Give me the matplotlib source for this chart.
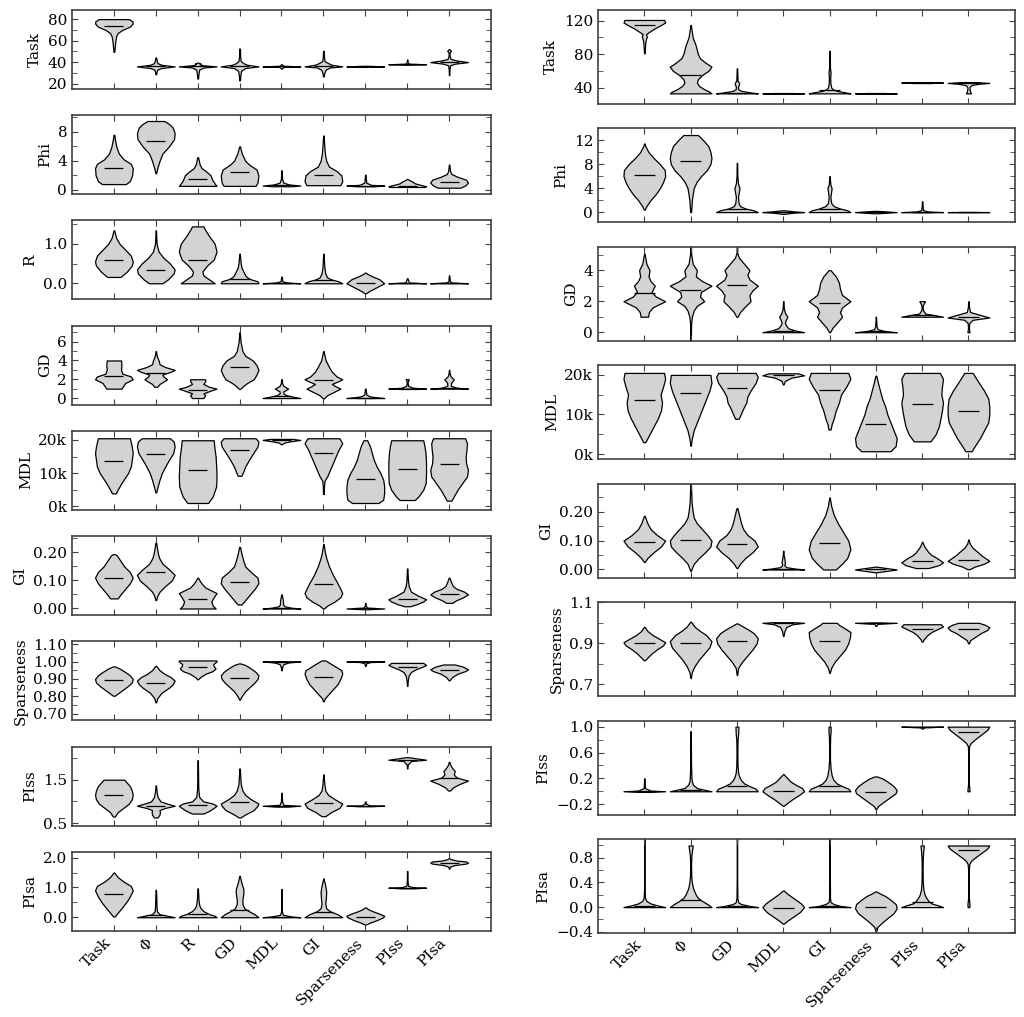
import numpy as np
import matplotlib
matplotlib.use("Agg")
import matplotlib.pyplot as plt
from matplotlib.ticker import FixedLocator, MultipleLocator, FuncFormatter

plt.rcParams['font.family'] = ['DejaVu Serif']
plt.rcParams['font.size'] = 11

LEFT_CATS = ["Task", "Φ", "R", "GD", "MDL", "GI", "Sparseness", "PIss", "PIsa"]
RIGHT_CATS = ["Task", "Φ", "GD", "MDL", "GI", "Sparseness", "PIss", "PIsa"]

# each violin: (median, [(value, relative density), ...])
# MDL values are in thousands

# ---- left column ----
L_TASK = [
    (73.8, [(49.5, .02), (55, .05), (60, .08), (64, .12), (67, .2), (70, .45), (73, .85), (76, 1), (78, .98), (80, .8)]),
    (36.0, [(28.7, .02), (31, .04), (33, .08), (34.5, .3), (36, 1), (37.5, .3), (39, .1), (41, .05), (44.3, .02)]),
    (36.0, [(24.7, .02), (29, .04), (33, .08), (35, .3), (36, 1), (37, .3), (38, .1), (38.8, .15), (39.5, .02)]),
    (36.5, [(23, .02), (28, .04), (32, .08), (34.5, .3), (36, 1), (37.5, .4), (39, .2), (41, .06), (45, .03), (52.6, .02)]),
    (36.0, [(34, .02), (35.5, .1), (36, 1), (36.5, .1), (38, .02)]),
    (36.0, [(26.8, .02), (30, .05), (33, .12), (35, .35), (36, 1), (37.5, .45), (39, .25), (41, .06), (45, .03), (50.5, .02)]),
    (36.0, [(35.5, .05), (36, 1), (36.5, .05)]),
    (38.0, [(37.5, .05), (38, 1), (38.5, .1), (40, .02), (42.4, .01)]),
    (40.0, [(27.8, .01), (33, .02), (37, .05), (38.5, .3), (40, 1), (41.5, .4), (43, .08), (46, .02), (49, .03), (50.5, .1), (52, .02)]),
]
L_PHI = [
    (3.0, [(0.8, .6), (1.2, .8), (2, .92), (3, .95), (3.6, .85), (4.2, .5), (5, .25), (6, .12), (7, .05), (7.6, .02)]),
    (6.8, [(2.3, .02), (3, .08), (4, .2), (5, .35), (6, .7), (7, .97), (7.8, 1), (8.6, .9), (9.1, .7), (9.5, .45)]),
    (1.5, [(0.55, .95), (0.9, .85), (1.3, .75), (2, .65), (2.5, .45), (3, .2), (3.5, .1), (4.5, .02)]),
    (2.4, [(0.55, .85), (1, .95), (2, 1), (2.8, .9), (3.5, .5), (4, .3), (5, .12), (6, .02)]),
    (0.65, [(0.5, .5), (0.6, 1), (0.75, .4), (1, .1), (1.5, .03), (2.7, .01)]),
    (2.1, [(0.65, .9), (1.2, 1), (2, .95), (2.6, .7), (3.2, .3), (4, .15), (5, .08), (6, .05), (7.5, .01)]),
    (0.6, [(0.5, .5), (0.6, 1), (0.7, .3), (1, .05), (2.1, .01)]),
    (0.6, [(0.4, .9), (0.5, 1), (0.7, .7), (0.9, .4), (1.1, .3), (1.3, .15), (1.5, .02)]),
    (1.1, [(0.3, .6), (0.6, .85), (1.0, 1), (1.4, .9), (1.8, .45), (2.2, .12), (2.6, .05), (3.5, .01)]),
]
L_R = [
    (0.60, [(0.16, .35), (0.3, .7), (0.45, .95), (0.55, 1), (0.7, .9), (0.85, .6), (1.0, .3), (1.15, .12), (1.34, .02)]),
    (0.33, [(0.0, .35), (0.1, .65), (0.25, .95), (0.35, 1), (0.5, .75), (0.65, .4), (0.8, .15), (1.0, .04), (1.34, .01)]),
    (0.58, [(0.0, .9), (0.1, .6), (0.2, .3), (0.3, .25), (0.45, .5), (0.6, .85), (0.8, 1), (1.0, .9), (1.2, .6), (1.35, .4), (1.44, .3)]),
    (0.11, [(0.0, 1), (0.05, .95), (0.1, .6), (0.15, .4), (0.2, .3), (0.3, .2), (0.4, .1), (0.5, .06), (0.75, .01)]),
    (0.0, [(0.0, 1), (0.02, .3), (0.05, .05), (0.17, .01)]),
    (0.075, [(0.0, 1), (0.05, .8), (0.1, .4), (0.15, .2), (0.25, .1), (0.4, .05), (0.75, .01)]),
    (0.0, [(-0.25, .05), (-0.2, .2), (-0.1, .6), (0.0, 1), (0.1, .75), (0.18, .35), (0.24, .1), (0.27, .02)]),
    (0.0, [(0.0, 1), (0.02, .1), (0.13, .01)]),
    (0.0, [(0.0, 1), (0.02, .15), (0.05, .04), (0.2, .01)]),
]
L_GD = [
    (2.4, [(1.0, .4), (1.3, .5), (1.6, .6), (2.0, 1), (2.3, .9), (2.6, .45), (3.0, .38), (3.5, .4), (4.0, .38)]),
    (2.7, [(1.2, .08), (1.5, .2), (1.8, .45), (2.0, .6), (2.3, .4), (2.5, .35), (2.8, .8), (3.0, 1), (3.3, .5), (3.6, .2), (4.0, .15), (4.5, .05), (5.0, .01)]),
    (0.85, [(0.0, .3), (0.3, .4), (0.5, .3), (0.8, .7), (1.0, 1), (1.2, .6), (1.5, .3), (1.8, .4), (2.0, .4)]),
    (3.3, [(1.0, .05), (1.3, .2), (1.6, .4), (2.0, .75), (2.5, .9), (3.0, 1), (3.5, .9), (4.0, .7), (4.5, .3), (5.0, .15), (6.0, .05), (7.0, .01)]),
    (0.2, [(0.0, 1), (0.15, .6), (0.3, .25), (0.5, .1), (0.7, .1), (1.0, .35), (1.3, .1), (1.6, .03), (2.0, .02)]),
    (1.9, [(-0.05, .02), (0.3, .2), (0.7, .6), (1.0, .9), (1.3, .6), (1.5, .45), (1.8, .8), (2.0, 1), (2.3, .7), (2.8, .45), (3.3, .3), (4.0, .12), (5.0, .01)]),
    (0.05, [(0.0, 1), (0.1, .5), (0.2, .2), (0.4, .05), (1.0, .02)]),
    (1.0, [(1.0, 1), (1.1, .3), (1.3, .05), (1.7, .02), (1.9, .06), (2.0, .08)]),
    (1.05, [(1.0, 1), (1.1, .4), (1.3, .1), (1.6, .1), (2.0, .25), (2.3, .08), (2.6, .03), (3.0, .01)]),
]
L_MDL = [
    (13.6, [(3.9, .1), (5, .2), (7, .4), (10, .75), (12, .9), (14, .95), (16, 1), (18, .95), (20.5, .85)]),
    (15.8, [(4.2, .02), (6, .1), (8, .2), (10, .32), (12, .5), (14, .7), (16, .92), (18, 1), (19.5, .95), (20.5, .75)]),
    (10.8, [(1.0, .55), (3, .8), (6, .98), (9, 1), (12, .98), (15, .95), (18, .88), (19.9, .85)]),
    (16.9, [(9.2, .1), (10.5, .2), (12, .3), (14, .5), (16, .72), (18, .95), (19.5, 1), (20.5, .85)]),
    (20.0, [(18.7, .02), (19.2, .15), (19.6, .5), (20.0, 1), (20.3, .6)]),
    (16.2, [(3.7, .02), (6, .03), (7.7, .06), (9, .2), (11, .35), (13, .5), (15, .65), (17, .8), (19, 1), (20.5, .85)]),
    (8.2, [(1.0, .7), (2, .95), (4, 1), (6, 1), (8, .95), (10, .8), (12, .6), (14, .45), (16, .35), (18, .25), (19.9, .1)]),
    (11.1, [(1.9, .4), (3, .6), (5, .85), (7, .98), (10, 1), (13, 1), (16, .97), (18, .92), (19.9, .85)]),
    (12.6, [(1.7, .12), (3, .25), (5, .45), (7, .7), (9, .95), (11, 1), (13, .9), (15, .88), (17, .92), (19, .95), (20.5, .85)]),
]
L_GI = [
    (0.108, [(0.036, .2), (0.05, .35), (0.07, .6), (0.09, .85), (0.11, 1), (0.13, .85), (0.15, .55), (0.17, .35), (0.19, .15), (0.194, .05)]),
    (0.129, [(0.03, .02), (0.045, .08), (0.06, .2), (0.08, .5), (0.1, .85), (0.12, 1), (0.14, .7), (0.16, .35), (0.18, .18), (0.2, .1), (0.235, .02)]),
    (0.033, [(0.0, .95), (0.01, .8), (0.025, .72), (0.04, .85), (0.055, 1), (0.065, .7), (0.075, .4), (0.09, .2), (0.1, .1), (0.11, .02)]),
    (0.095, [(0.014, .1), (0.03, .3), (0.05, .55), (0.07, .8), (0.09, 1), (0.11, .95), (0.13, .6), (0.15, .3), (0.17, .2), (0.19, .12), (0.22, .02)]),
    (0.002, [(0.0, 1), (0.003, .5), (0.008, .15), (0.015, .08), (0.025, .08), (0.035, .06), (0.05, .01)]),
    (0.089, [(0.0, .03), (0.01, .2), (0.025, .6), (0.04, .9), (0.055, 1), (0.07, .9), (0.09, .75), (0.12, .5), (0.15, .3), (0.18, .15), (0.2, .08), (0.23, .01)]),
    (0.0, [(-0.003, .02), (0.0, 1), (0.003, .1), (0.01, .02), (0.02, .01)]),
    (0.033, [(0.008, .15), (0.015, .5), (0.025, .85), (0.033, 1), (0.045, .6), (0.06, .2), (0.08, .08), (0.1, .04), (0.143, .01)]),
    (0.052, [(0.02, .15), (0.03, .4), (0.04, .75), (0.05, 1), (0.06, .8), (0.07, .4), (0.08, .2), (0.095, .1), (0.11, .02)]),
]
L_SPARSE = [
    (0.894, [(0.804, .05), (0.82, .25), (0.84, .5), (0.86, .75), (0.88, .95), (0.9, 1), (0.92, .85), (0.94, .6), (0.96, .3), (0.972, .05)]),
    (0.874, [(0.766, .02), (0.79, .08), (0.82, .3), (0.85, .7), (0.87, .9), (0.89, 1), (0.91, .8), (0.93, .45), (0.95, .2), (0.974, .03)]),
    (0.969, [(0.898, .02), (0.91, .12), (0.93, .4), (0.945, .75), (0.96, .9), (0.975, .8), (0.985, .78), (1.0, .95), (1.006, .95)]),
    (0.906, [(0.781, .02), (0.8, .1), (0.83, .3), (0.86, .6), (0.88, .8), (0.9, .95), (0.92, 1), (0.94, .85), (0.96, .6), (0.98, .3), (0.989, .05)]),
    (1.0, [(0.95, .01), (0.97, .04), (0.985, .1), (0.995, .4), (1.0, 1), (1.002, .3)]),
    (0.911, [(0.772, .02), (0.79, .08), (0.81, .25), (0.84, .5), (0.87, .75), (0.9, .9), (0.93, 1), (0.95, .95), (0.97, .65), (0.99, .35), (1.006, .1)]),
    (1.0, [(0.975, .02), (0.99, .05), (0.998, .3), (1.0, 1), (1.002, .1)]),
    (0.969, [(0.86, .01), (0.89, .03), (0.92, .08), (0.94, .2), (0.955, .45), (0.97, .8), (0.98, 1), (0.992, .85)]),
    (0.950, [(0.892, .02), (0.91, .15), (0.93, .45), (0.945, .85), (0.955, 1), (0.97, .75), (0.983, .3)]),
]
L_PISS = [
    (1.14, [(0.65, .05), (0.75, .2), (0.85, .5), (0.95, .8), (1.05, .95), (1.15, 1), (1.25, .95), (1.35, .85), (1.45, .65), (1.5, .55)]),
    (0.885, [(0.63, .1), (0.7, .2), (0.75, .22), (0.8, .2), (0.85, .5), (0.9, 1), (0.95, .6), (1.0, .25), (1.1, .1), (1.2, .05), (1.37, .01)]),
    (0.92, [(0.72, .3), (0.78, .6), (0.85, .85), (0.9, 1), (0.95, .8), (1.0, .3), (1.1, .08), (1.3, .03), (1.6, .02), (1.95, .01)]),
    (0.99, [(0.63, .05), (0.7, .3), (0.8, .75), (0.9, .95), (0.95, 1), (1.05, .6), (1.15, .3), (1.25, .15), (1.4, .06), (1.76, .01)]),
    (0.9, [(0.88, .3), (0.9, 1), (0.92, .1), (1.0, .03), (1.2, .01)]),
    (0.97, [(0.66, .1), (0.75, .4), (0.85, .85), (0.95, 1), (1.05, .6), (1.15, .25), (1.25, .1), (1.4, .05), (1.62, .01)]),
    (0.9, [(0.89, .3), (0.9, 1), (0.91, .2), (0.95, .03), (1.0, .01)]),
    (1.96, [(1.76, .01), (1.85, .03), (1.93, .2), (1.96, 1), (1.99, .5), (2.02, .05)]),
    (1.55, [(1.25, .05), (1.32, .2), (1.4, .55), (1.48, 1), (1.55, .4), (1.62, .25), (1.7, .3), (1.78, .15), (1.85, .05), (1.91, .02)]),
]
L_PISA = [
    (0.77, [(0.03, .05), (0.15, .2), (0.3, .4), (0.5, .65), (0.7, .85), (0.9, 1), (1.05, .9), (1.2, .5), (1.35, .2), (1.5, .02)]),
    (0.08, [(0.0, 1), (0.05, .6), (0.1, .2), (0.2, .06), (0.35, .04), (0.6, .03), (0.92, .01)]),
    (0.11, [(0.0, .95), (0.05, .85), (0.1, .6), (0.2, .3), (0.3, .15), (0.4, .08), (0.6, .04), (0.97, .01)]),
    (0.23, [(0.0, 1), (0.1, .8), (0.2, .5), (0.3, .25), (0.45, .15), (0.6, .15), (0.8, .2), (0.95, .2), (1.15, .1), (1.39, .01)]),
    (0.02, [(0.0, 1), (0.03, .5), (0.08, .08), (0.2, .02), (0.5, .015), (0.95, .01)]),
    (0.17, [(0.0, 1), (0.1, .75), (0.2, .35), (0.3, .15), (0.45, .1), (0.65, .13), (0.85, .15), (1.05, .1), (1.3, .01)]),
    (0.02, [(-0.24, .05), (-0.18, .25), (-0.1, .6), (0.0, .95), (0.05, 1), (0.12, .75), (0.2, .4), (0.27, .15), (0.33, .02)]),
    (0.99, [(0.97, .3), (0.99, 1), (1.01, .3), (1.05, .05), (1.2, .02), (1.55, .01)]),
    (1.83, [(1.63, .01), (1.7, .05), (1.75, .3), (1.8, .9), (1.83, 1), (1.87, .9), (1.9, .4), (1.95, .08), (1.98, .02)]),
]

# ---- right column ----
R_TASK = [
    (115.2, [(81, .01), (88, .03), (95, .05), (98, .08), (101, .12), (104, .08), (107, .25), (111, .5), (115, .8), (118, 1), (121, .95)]),
    (55.0, [(33, 1), (35, .9), (38, .65), (42, .4), (46, .3), (50, .35), (55, .55), (60, .85), (65, 1), (70, .7), (75, .45), (80, .35), (90, .25), (100, .1), (108, .05), (115, .01)]),
    (33.8, [(33, 1), (34, .7), (36, .2), (38, .06), (41, .05), (44, .1), (46, .1), (48, .03), (55, .02), (63, .01)]),
    (33.0, [(32.8, .3), (33, 1), (33.2, .3)]),
    (37.0, [(33, 1), (34, .8), (36, .35), (38, .15), (40, .08), (45, .04), (52, .03), (58, .05), (64, .02), (75, .015), (84, .01)]),
    (33.0, [(32.8, .3), (33, 1), (33.2, .3)]),
    (46.0, [(45.5, .4), (46, 1), (46.5, .3)]),
    (45.0, [(33, .12), (35, .08), (38, .05), (41, .06), (43, .15), (44.5, .5), (45.5, 1), (46.5, .4)]),
]
R_PHI = [
    (6.2, [(0.4, .02), (1, .1), (2, .3), (3, .55), (4, .75), (5, .9), (6, 1), (7, .98), (8, .75), (9, .45), (10, .2), (11, .05), (11.45, .01)]),
    (8.5, [(0.0, .02), (1, .04), (2, .06), (3, .1), (4, .15), (5, .28), (6, .5), (7, .78), (8, .95), (9, 1), (10, .95), (11, .85), (12, .6), (12.85, .35)]),
    (0.55, [(0.0, 1), (0.3, .8), (0.6, .4), (1.0, .15), (1.5, .08), (2.5, .05), (3.5, .1), (4, .12), (4.8, .05), (6, .02), (8.2, .01)]),
    (0.0, [(-0.3, .02), (-0.1, .5), (0.0, 1), (0.1, .6), (0.3, .05)]),
    (0.55, [(0.0, 1), (0.3, .85), (0.6, .5), (1.0, .2), (1.5, .08), (2.5, .04), (3.5, .08), (4, .1), (4.6, .04), (5.3, .02), (6.0, .01)]),
    (0.0, [(-0.2, .1), (0.0, 1), (0.2, .1)]),
    (0.0, [(-0.05, .2), (0.0, 1), (0.1, .3), (0.3, .05), (1.0, .02), (1.8, .01)]),
    (0.0, [(-0.02, .3), (0.0, 1), (0.02, .3)]),
]
R_GD = [
    (2.53, [(1.0, .18), (1.3, .22), (1.6, .4), (2.0, 1), (2.3, .55), (2.6, .35), (3.0, .5), (3.3, .3), (3.6, .2), (4.0, .25), (4.4, .1), (5.08, .01)]),
    (2.75, [(-0.6, .01), (0.5, .02), (1.0, .06), (1.4, .15), (1.7, .3), (2.0, .65), (2.3, .45), (2.6, .5), (3.0, 1), (3.3, .55), (3.6, .25), (4.0, .3), (4.4, .1), (5.0, .03), (5.6, .01)]),
    (3.07, [(1.0, .03), (1.3, .15), (1.6, .35), (2.0, .65), (2.4, .6), (2.7, .75), (3.0, 1), (3.4, .6), (3.7, .5), (4.0, .6), (4.4, .35), (4.8, .1), (5.1, .02), (5.6, .01)]),
    (0.1, [(0.0, 1), (0.1, .6), (0.25, .25), (0.4, .15), (0.6, .08), (0.8, .12), (1.0, .2), (1.2, .1), (1.5, .03), (2.0, .01)]),
    (1.9, [(0.0, .02), (0.3, .15), (0.6, .35), (1.0, .6), (1.3, .5), (1.6, .6), (2.0, 1), (2.4, .6), (2.8, .5), (3.2, .45), (3.6, .3), (4.0, .05)]),
    (0.05, [(0.0, 1), (0.08, .4), (0.2, .08), (0.4, .03), (1.0, .01)]),
    (1.08, [(1.0, 1), (1.1, .6), (1.2, .15), (1.4, .05), (1.6, .02), (1.8, .05), (1.95, .12), (2.0, .13)]),
    (0.95, [(0.0, .05), (0.1, .04), (0.3, .02), (0.6, .04), (0.8, .2), (0.95, 1), (1.1, .6), (1.3, .08), (1.6, .03), (2.0, .01)]),
]
R_MDL = [
    (13.6, [(3.0, .05), (4, .15), (5.5, .3), (7, .45), (9, .65), (11, .8), (13, .85), (15, .78), (17, .9), (19, 1), (20.5, .95)]),
    (15.4, [(2.1, .01), (4, .06), (6, .15), (8, .3), (10, .45), (12, .6), (14, .75), (16, .9), (18, 1), (20, .95)]),
    (16.8, [(8.9, .08), (10, .18), (11.5, .3), (13, .45), (14.5, .5), (16, .65), (18, .9), (19.5, 1), (20.5, .9)]),
    (19.9, [(17.6, .02), (18.5, .08), (19.3, .4), (19.9, 1), (20.4, .7)]),
    (16.3, [(6.2, .05), (7.5, .1), (9, .2), (11, .3), (13, .45), (15, .55), (17, .8), (19, 1), (20.5, .9)]),
    (7.5, [(0.7, .7), (2, .95), (4, 1), (6, .85), (8, .7), (10, .55), (12, .45), (14, .3), (16, .2), (18, .1), (19.8, .02)]),
    (12.7, [(3.2, .4), (5, .65), (7, .8), (9, .88), (11, .95), (13, 1), (15, .92), (17, .95), (19, 1), (20.5, .85)]),
    (10.8, [(0.7, .15), (2, .3), (4, .55), (6, .75), (8, .95), (10, 1), (12, 1), (14, .95), (16, .75), (18, .5), (20.5, .2)]),
]
R_GI = [
    (0.096, [(0.026, .02), (0.04, .15), (0.06, .45), (0.08, .8), (0.1, 1), (0.12, .6), (0.14, .3), (0.16, .15), (0.186, .02)]),
    (0.103, [(-0.005, .01), (0.02, .15), (0.04, .4), (0.06, .7), (0.08, .95), (0.1, 1), (0.12, .8), (0.14, .55), (0.16, .3), (0.18, .15), (0.2, .1), (0.23, .05), (0.3, .01)]),
    (0.089, [(0.005, .02), (0.02, .15), (0.04, .4), (0.06, .75), (0.08, 1), (0.1, .85), (0.12, .5), (0.14, .3), (0.16, .2), (0.19, .1), (0.213, .02)]),
    (0.002, [(0.0, 1), (0.003, .6), (0.008, .15), (0.015, .05), (0.025, .08), (0.035, .06), (0.05, .02), (0.065, .01)]),
    (0.092, [(0.0, .3), (0.02, .6), (0.04, .85), (0.07, 1), (0.1, .9), (0.13, .65), (0.16, .4), (0.19, .2), (0.22, .08), (0.25, .01)]),
    (0.0, [(-0.01, .01), (0.0, 1), (0.01, .01)]),
    (0.030, [(0.005, .3), (0.015, .8), (0.025, 1), (0.04, .7), (0.05, .45), (0.06, .3), (0.07, .2), (0.08, .1), (0.096, .01)]),
    (0.033, [(0.001, .05), (0.01, .3), (0.02, .75), (0.03, 1), (0.04, .8), (0.05, .6), (0.06, .45), (0.075, .2), (0.09, .06), (0.104, .01)]),
]
R_SPARSE = [
    (0.903, [(0.817, .03), (0.83, .15), (0.85, .35), (0.87, .6), (0.89, .9), (0.905, 1), (0.92, .75), (0.94, .4), (0.96, .15), (0.98, .02)]),
    (0.900, [(0.73, .01), (0.76, .06), (0.79, .2), (0.82, .4), (0.85, .65), (0.88, .9), (0.91, 1), (0.94, .75), (0.96, .45), (0.98, .2), (1.005, .02)]),
    (0.913, [(0.745, .01), (0.78, .06), (0.81, .25), (0.84, .5), (0.87, .75), (0.9, .95), (0.925, 1), (0.95, .8), (0.97, .5), (0.99, .15), (0.997, .03)]),
    (1.0, [(0.935, .01), (0.96, .06), (0.98, .15), (0.993, .45), (1.0, 1), (1.003, .5)]),
    (0.910, [(0.755, .01), (0.78, .08), (0.81, .25), (0.84, .5), (0.87, .75), (0.9, .9), (0.93, .98), (0.955, 1), (0.975, .7), (0.99, .45), (1.0, .35)]),
    (1.0, [(0.985, .02), (0.995, .08), (1.0, 1), (1.002, .1)]),
    (0.972, [(0.908, .02), (0.92, .08), (0.94, .25), (0.955, .45), (0.97, .75), (0.982, 1), (0.993, .9)]),
    (0.972, [(0.9, .02), (0.915, .08), (0.93, .3), (0.95, .6), (0.965, .9), (0.978, 1), (0.99, .8), (1.0, .5)]),
]
R_PISS = [
    (0.0, [(-0.01, .3), (0.0, 1), (0.01, .3), (0.05, .03), (0.2, .01)]),
    (0.02, [(0.0, 1), (0.02, .7), (0.05, .3), (0.1, .12), (0.15, .06), (0.2, .04), (0.4, .02), (0.6, .015), (0.93, .01)]),
    (0.077, [(0.0, 1), (0.04, .9), (0.08, .6), (0.12, .35), (0.17, .2), (0.22, .12), (0.28, .06), (0.4, .03), (0.6, .02), (0.8, .03), (0.9, .06), (1.0, .07)]),
    (0.0, [(-0.225, .02), (-0.18, .2), (-0.12, .45), (-0.06, .75), (0.0, 1), (0.05, .9), (0.1, .6), (0.15, .35), (0.2, .2), (0.265, .02)]),
    (0.087, [(0.0, 1), (0.04, .9), (0.08, .6), (0.12, .35), (0.18, .18), (0.25, .1), (0.35, .05), (0.5, .02), (0.7, .02), (0.85, .03), (0.92, .05), (1.0, .05)]),
    (-0.007, [(-0.28, .01), (-0.23, .1), (-0.17, .35), (-0.1, .65), (-0.03, .95), (0.02, 1), (0.08, .85), (0.14, .6), (0.2, .3), (0.23, .05)]),
    (1.0, [(0.97, .02), (0.99, .1), (1.0, 1)]),
    (0.92, [(0.0, .05), (0.05, .04), (0.1, .02), (0.2, .01), (0.4, .01), (0.6, .015), (0.7, .03), (0.75, .12), (0.8, .3), (0.85, .5), (0.9, .7), (0.95, .9), (1.0, 1)]),
]
R_PISA = [
    (0.01, [(0.0, 1), (0.03, .6), (0.06, .3), (0.1, .1), (0.15, .03), (0.3, .01), (0.6, .01), (1.0, .01), (1.15, .01)]),
    (0.108, [(0.0, 1), (0.05, .8), (0.1, .55), (0.15, .35), (0.2, .25), (0.3, .12), (0.4, .06), (0.5, .03), (0.7, .02), (0.85, .04), (0.95, .08), (1.0, .1)]),
    (0.01, [(0.0, 1), (0.02, .6), (0.05, .2), (0.08, .06), (0.15, .02), (0.5, .01), (1.15, .01)]),
    (-0.01, [(-0.27, .02), (-0.22, .2), (-0.15, .5), (-0.08, .8), (0.0, 1), (0.06, .85), (0.12, .6), (0.18, .35), (0.23, .15), (0.27, .02)]),
    (0.01, [(0.0, 1), (0.02, .5), (0.05, .2), (0.08, .05), (0.15, .02), (0.3, .02), (0.6, .01), (1.15, .01)]),
    (0.0, [(-0.4, .01), (-0.32, .08), (-0.25, .3), (-0.18, .55), (-0.1, .85), (-0.02, 1), (0.05, .95), (0.12, .7), (0.18, .45), (0.22, .2), (0.255, .02)]),
    (0.076, [(0.0, 1), (0.03, .75), (0.06, .45), (0.1, .3), (0.15, .2), (0.2, .12), (0.28, .06), (0.4, .03), (0.6, .02), (0.8, .03), (0.9, .05), (1.0, .08)]),
    (0.92, [(0.0, .04), (0.05, .05), (0.1, .03), (0.2, .01), (0.4, .01), (0.6, .015), (0.7, .04), (0.75, .12), (0.8, .3), (0.85, .5), (0.9, .7), (0.95, .9), (1.0, 1)]),
]

# panel setup: (row label, violins, ylim, major ticks, minor step, tick format)
LEFT_PANELS = [
    ("Task", L_TASK, (15, 88.5), [20, 40, 60, 80], 10, "{:.0f}"),
    ("Phi", L_PHI, (-0.6, 10.3), [0, 4, 8], 2, "{:.0f}"),
    ("R", L_R, (-0.41, 1.59), [0, 1], 0.5, "{:.1f}"),
    ("GD", L_GD, (-0.71, 7.7), [0, 2, 4, 6], 1, "{:.0f}"),
    ("MDL", L_MDL, (-1.1, 22.7), [0, 10, 20], 5, "{:.0f}k"),
    ("GI", L_GI, (-0.024, 0.258), [0, 0.1, 0.2], 0.05, "{:.2f}"),
    ("Sparseness", L_SPARSE, (0.662, 1.115), [0.7, 0.8, 0.9, 1.0, 1.1], 0.05, "{:.2f}"),
    ("PIss", L_PISS, (0.44, 2.26), [0.5, 1.5], 0.5, "{:.1f}"),
    ("PIsa", L_PISA, (-0.46, 2.19), [0, 1, 2], 0.5, "{:.1f}"),
]
RIGHT_PANELS = [
    ("Task", R_TASK, (20.7, 133), [40, 80, 120], 20, "{:.0f}"),
    ("Phi", R_PHI, (-1.67, 13.95), [0, 4, 8, 12], 2, "{:.0f}"),
    ("GD", R_GD, (-0.54, 5.5), [0, 2, 4], 1, "{:.0f}"),
    ("MDL", R_MDL, (-1.28, 22.4), [0, 10, 20], 5, "{:.0f}k"),
    ("GI", R_GI, (-0.028, 0.297), [0, 0.1, 0.2], 0.05, "{:.2f}"),
    ("Sparseness", R_SPARSE, (0.642, 1.1), [0.7, 0.9, 1.1], 0.1, "{:.1f}"),
    ("PIss", R_PISS, (-0.36, 1.09), [-0.2, 0.2, 0.6, 1.0], 0.2, "{:.1f}"),
    ("PIsa", R_PISA, (-0.42, 1.1), [-0.4, 0.0, 0.4, 0.8], 0.2, "{:.1f}"),
]


def to_stats(violins):
    stats = []
    for med, prof in violins:
        ys = np.array([p[0] for p in prof], float)
        ws = np.array([p[1] for p in prof], float)
        stats.append(dict(coords=ys, vals=ws, mean=med, median=med,
                          min=ys.min(), max=ys.max()))
    return stats


def make_fmt(fmt):
    return FuncFormatter(lambda v, pos: fmt.format(v).replace("-", "\u2212"))


def draw_column(fig, gs, panels, cats):
    n = len(cats)
    pos = np.arange(1, n + 1)
    for i, (label, violins, ylim, majors, minor, fmt) in enumerate(panels):
        ax = fig.add_subplot(gs[i])
        parts = ax.violin(to_stats(violins), positions=pos, widths=0.9,
                          showextrema=False, showmedians=True)
        for b in parts['bodies']:
            b.set_facecolor('lightgray')
            b.set_edgecolor('black')
            b.set_linewidth(0.9)
            b.set_alpha(1)
        parts['cmedians'].set_color('black')
        parts['cmedians'].set_linewidth(0.9)

        ax.set_xlim(0, n + 1)
        ax.set_ylim(*ylim)
        ax.set_xticks(pos)
        ax.yaxis.set_major_locator(FixedLocator(majors))
        ax.yaxis.set_minor_locator(MultipleLocator(minor))
        ax.yaxis.set_major_formatter(make_fmt(fmt))
        ax.tick_params(which='both', direction='in', top=True, right=True,
                       color='0.25', labelsize=11)
        ax.tick_params(which='major', length=4.5)
        ax.tick_params(which='minor', length=3.5)
        for s in ax.spines.values():
            s.set_color('0.25')
            s.set_linewidth(1.2)
        ax.set_ylabel(label, fontsize=11)
        if i == len(panels) - 1:
            labels = ax.set_xticklabels(cats, rotation=45, ha='right', fontsize=11)
            labels[1].set_fontsize(10)
        else:
            ax.set_xticklabels([])


fig = plt.figure(figsize=(10.24, 10.17), dpi=100)
gs_left = fig.add_gridspec(len(LEFT_PANELS), 1, left=0.0703, right=0.4795,
                           top=0.9902, bottom=0.0846, hspace=0.332)
gs_right = fig.add_gridspec(len(RIGHT_PANELS), 1, left=0.584, right=0.991,
                            top=0.9902, bottom=0.0826, hspace=0.265)
draw_column(fig, gs_left, LEFT_PANELS, LEFT_CATS)
draw_column(fig, gs_right, RIGHT_PANELS, RIGHT_CATS)

fig.savefig("out.png", dpi=100)
